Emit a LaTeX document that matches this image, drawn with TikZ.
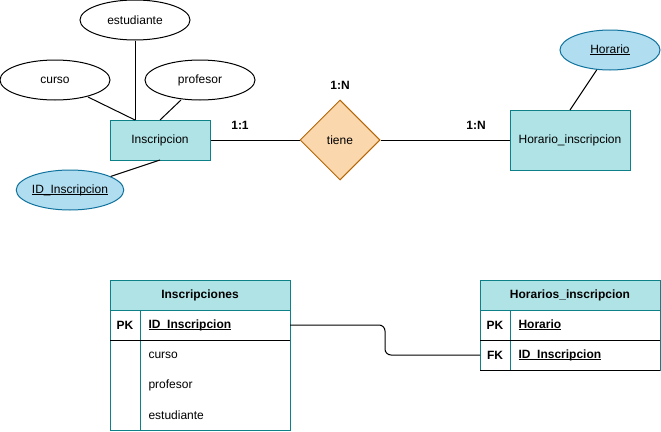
\documentclass[tikz,border=0pt]{standalone}
\usepackage{fontspec}
\setmainfont{Liberation Sans}
\usetikzlibrary{shapes.geometric}
\definecolor{entfill}{HTML}{B0E3E6}
\definecolor{entline}{HTML}{0E8088}
\definecolor{keyfill}{HTML}{B1DDF0}
\definecolor{keyline}{HTML}{10739E}
\definecolor{relfill}{HTML}{FAD7AC}
\definecolor{relline}{HTML}{B46504}
\newcommand{\ulx}[1]{\setbox0\hbox{#1}\rlap{\rule[-1.6pt]{\wd0}{0.8pt}}\box0}
\tikzset{
  base/.style={font=\fontsize{12}{14}\selectfont},
  bold/.style={font=\fontsize{12}{14}\selectfont\bfseries},
  attr/.style={ellipse, draw=black, fill=white, minimum width=110pt, minimum height=40pt, inner sep=0pt},
  keyattr/.style={ellipse, draw=keyline, fill=keyfill, minimum width=100pt, minimum height=40pt, inner sep=0pt},
  entity/.style={rectangle, draw=entline, fill=entfill, minimum height=40pt, inner sep=0pt},
  rel/.style={diamond, draw=relline, fill=relfill, minimum width=80pt, minimum height=80pt, inner sep=0pt},
  card/.style={bold, inner sep=0pt},
  link/.style={draw=black, line width=1pt},
  thead/.style={rectangle, draw=entline, fill=entfill, minimum width=180pt, minimum height=30pt, inner sep=0pt, bold},
  ttext/.style={anchor=west, inner sep=0pt},
  tkey/.style={inner sep=0pt, bold},
}
\begin{document}
\begin{tikzpicture}[x=1pt, y=-1pt, base, line width=1pt]
\useasboundingbox (0,0) rectangle (661,431);
% ER part
\node[attr] (est) at (135,20) {estudiante};
\node[attr] (cur) at (55,80) {curso};
\node[attr] (pro) at (200,80) {profesor};
\node[entity, minimum width=100pt] (ins) at (160,140) {Inscripcion};
\node[keyattr] (idi) at (70,190) {\ulx{ID\_Inscripcion}};
\node[rel] (tie) at (340,140) {tiene};
\node[entity, minimum width=120pt, minimum height=60pt] (hin) at (570,140) {Horario\_inscripcion};
\node[keyattr] (hor) at (610,50) {\ulx{Horario}};
\coordinate (insTopA) at (135,120);
\coordinate (insTopB) at (160,120);
\coordinate (insBot) at (160,160);
\coordinate (hinTop) at (570,110);
\coordinate (curP) at (88,97);
\coordinate (proP) at (181,100);
\draw[link] (est.south) -- (insTopA);
\draw[link] (curP) -- (insTopA);
\draw[link] (proP) -- (insTopB);
\draw[link] (insBot) -- (idi);
\draw[link] (ins.east) -- (tie.west);
\draw[link] (tie.east) -- (hin.west);
\draw[link] (hor) -- (hinTop);
\node[card] (c1) at (240,125) {1:1};
\node[card] (c2) at (340,85) {1:N};
\node[card] (c3) at (476,125) {1:N};
% Table Inscripciones
\draw[draw=entline, fill=white] (110,310) rectangle (290,430);
\draw[draw=entline] (140,310) -- (140,430);
\draw[black] (110,340) -- (290,340);
\node[thead] (t1) at (200,295) {Inscripciones};
\node[tkey] (t1pk) at (125,325) {PK};
\node[ttext, bold] (t1id) at (148,325) {\ulx{ID\_Inscripcion}};
\node[ttext] (t1c) at (148,355) {curso};
\node[ttext] (t1p) at (148,385) {profesor};
\node[ttext] (t1e) at (148,415) {estudiante};
\coordinate (t1r) at (290,325);
% Table Horarios_inscripcion
\draw[draw=entline, fill=white] (480,310) rectangle (660,370);
\draw[draw=entline] (510,310) -- (510,370);
\draw[black] (480,340) -- (660,340);
\draw[black] (480,370) -- (660,370);
\node[thead] (t2) at (570,295) {Horarios\_inscripcion};
\node[tkey] (t2pk) at (495,325) {PK};
\node[ttext, bold] (t2h) at (518,325) {\ulx{Horario}};
\node[tkey] (t2fk) at (495,355) {FK};
\node[ttext, bold] (t2id) at (518,355) {\ulx{ID\_Inscripcion}};
\coordinate (t2l) at (480,355);
\coordinate (mid) at (385,340);
\draw[link, rounded corners=6pt] (t1r) -| (mid) |- (t2l);
\end{tikzpicture}
\end{document}
